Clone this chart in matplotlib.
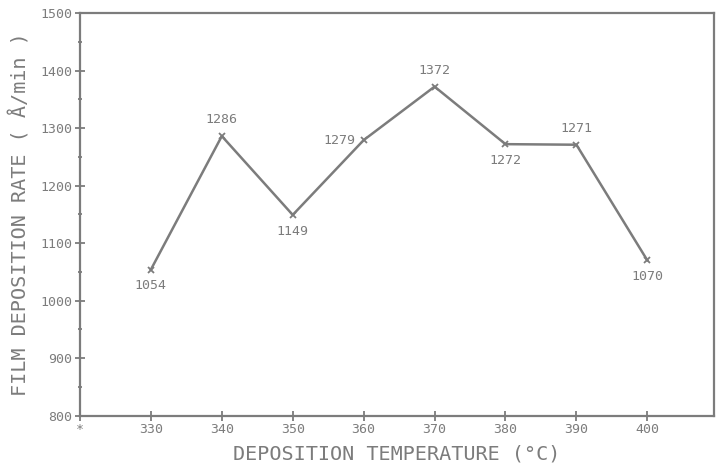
import matplotlib
matplotlib.use("Agg")
import matplotlib.pyplot as plt
from matplotlib.ticker import MultipleLocator

# deposition temperature (C) vs film deposition rate (A/min)
temps = [330, 340, 350, 360, 370, 380, 390, 400]
rates = [1054, 1286, 1149, 1279, 1372, 1272, 1271, 1070]
# where each value label sits relative to its point
label_side = ["below", "above", "below", "left", "above", "below", "above", "below"]

x_ticks = [320, 330, 340, 350, 360, 370, 380, 390, 400]
x_tick_labels = ["*", "330", "340", "350", "360", "370", "380", "390", "400"]
y_ticks = [800, 900, 1000, 1100, 1200, 1300, 1400, 1500]

ink = "#7c7c7c"
plt.rcParams["font.family"] = ["DejaVu Sans Mono", "DejaVu Sans"]

fig = plt.figure(figsize=(7.16, 4.69), dpi=100)
ax = fig.add_axes([0.1117, 0.1137, 0.8855, 0.8586])

ax.plot(temps, rates, color=ink, lw=1.8, marker="x", ms=4, mew=1.3)

for t, r, side in zip(temps, rates, label_side):
    if side == "above":
        ax.annotate(str(r), (t, r), xytext=(0, 7), textcoords="offset points",
                    ha="center", va="bottom", fontsize=9.5, color=ink)
    elif side == "below":
        ax.annotate(str(r), (t, r), xytext=(0, -7), textcoords="offset points",
                    ha="center", va="top", fontsize=9.5, color=ink)
    else:
        ax.annotate(str(r), (t, r), xytext=(-6, 0), textcoords="offset points",
                    ha="right", va="center", fontsize=9.5, color=ink)

ax.set_xlim(320, 409.4)
ax.set_ylim(800, 1500)
ax.set_xticks(x_ticks)
ax.set_xticklabels(x_tick_labels)
ax.set_yticks(y_ticks)
ax.yaxis.set_minor_locator(MultipleLocator(50))

ax.tick_params(axis="both", which="major", direction="inout", length=7, width=1.3,
               colors=ink, labelsize=9.5, pad=2)
ax.tick_params(axis="y", which="minor", direction="inout", length=3, width=1.3, colors=ink)
for s in ax.spines.values():
    s.set_color(ink)
    s.set_linewidth(1.6)

ax.set_xlabel("DEPOSITION TEMPERATURE (°C)", fontsize=14.5, color=ink, labelpad=6)
ax.set_ylabel("FILM DEPOSITION RATE ( Å/min )", fontsize=14.5, color=ink, labelpad=7)

fig.savefig("out.png", dpi=100)
